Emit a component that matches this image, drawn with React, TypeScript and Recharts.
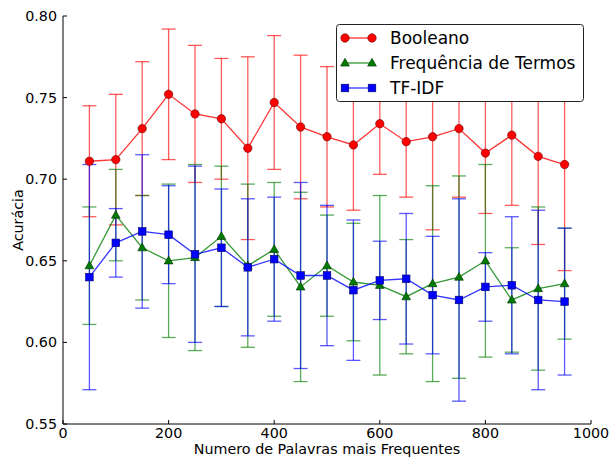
import { LineChart, Line, XAxis, YAxis, ErrorBar, Legend } from "recharts";

const palavras = [50, 100, 150, 200, 250, 300, 350, 400, 450, 500, 550, 600, 650, 700, 750, 800, 850, 900, 950];

const booleano = [0.711, 0.712, 0.731, 0.752, 0.740, 0.737, 0.719, 0.747, 0.732, 0.726, 0.721, 0.734, 0.723, 0.726, 0.731, 0.716, 0.727, 0.714, 0.709];
const booleanoErro = [0.034, 0.040, 0.041, 0.040, 0.042, 0.037, 0.056, 0.041, 0.044, 0.043, 0.040, 0.031, 0.034, 0.057, 0.042, 0.037, 0.043, 0.054, 0.065];

const frequencia = [0.647, 0.678, 0.658, 0.650, 0.652, 0.665, 0.647, 0.657, 0.634, 0.647, 0.637, 0.635, 0.628, 0.636, 0.640, 0.650, 0.626, 0.633, 0.636];
const frequenciaErro = [0.036, 0.028, 0.032, 0.047, 0.057, 0.043, 0.050, 0.041, 0.058, 0.031, 0.036, 0.055, 0.035, 0.060, 0.062, 0.059, 0.032, 0.050, 0.034];

const tfidf = [0.640, 0.661, 0.668, 0.666, 0.654, 0.658, 0.646, 0.651, 0.641, 0.641, 0.632, 0.638, 0.639, 0.629, 0.626, 0.634, 0.635, 0.626, 0.625];
const tfidfErro = [0.069, 0.021, 0.047, 0.030, 0.054, 0.036, 0.042, 0.038, 0.057, 0.043, 0.043, 0.024, 0.040, 0.036, 0.062, 0.021, 0.042, 0.055, 0.045];

const xTicks = [0, 200, 400, 600, 800, 1000];
const yTicks = [0.55, 0.6, 0.65, 0.7, 0.75, 0.8];

const data = palavras.map((n, i) => ({
  n,
  booleano: booleano[i],
  booleanoErro: booleanoErro[i],
  frequencia: frequencia[i],
  frequenciaErro: frequenciaErro[i],
  tfidf: tfidf[i],
  tfidfErro: tfidfErro[i],
}));

const FONT = "'DejaVu Sans', sans-serif";
const SIZE = 14.3;

const circle = (cx: number, cy: number, key?: any) => (
  <circle key={key} cx={cx} cy={cy} r={4.2} fill="#ff0000" stroke="#660000" strokeWidth={0.6} />
);
const triangle = (cx: number, cy: number, key?: any) => (
  <polygon
    key={key}
    points={`${cx},${cy - 4.7} ${cx - 4.4},${cy + 3.1} ${cx + 4.4},${cy + 3.1}`}
    fill="#007a00"
    stroke="#003300"
    strokeWidth={0.6}
  />
);
const square = (cx: number, cy: number, key?: any) => (
  <rect key={key} x={cx - 3.8} y={cy - 3.8} width={7.6} height={7.6} fill="#0000ff" stroke="#000066" strokeWidth={0.6} />
);

const series = [
  { name: "Booleano", color: "#ff0000", marker: circle },
  { name: "Frequência de Termos", color: "#008000", marker: triangle },
  { name: "TF-IDF", color: "#0000ff", marker: square },
];

const LegendBox = () => (
  <svg width={248} height={78} style={{ display: "block" }}>
    <rect x={0.5} y={0.5} width={247} height={77} rx={3} fill="#ffffff" stroke="#222" strokeWidth={1} />
    {series.map((s, i) => {
      const y = 14 + i * 25;
      return (
        <g key={s.name}>
          <line x1={9} x2={36} y1={y} y2={y} stroke={s.color} strokeWidth={1.3} strokeOpacity={0.8} />
          {s.marker(9, y)}
          {s.marker(36, y)}
          <text x={54} y={y} dominantBaseline="central" fontFamily={FONT} fontSize={17} fill="#000">
            {s.name}
          </text>
        </g>
      );
    })}
  </svg>
);

export default function App() {
  return (
    <div style={{ position: "absolute", left: 0, top: 0, width: 609, height: 457, background: "#fff" }}>
      <LineChart width={609} height={457} data={data} margin={{ top: 16, right: 18, left: 0, bottom: 0 }}>
        <XAxis
          dataKey="n"
          type="number"
          domain={[0, 1000]}
          ticks={xTicks}
          height={33}
          stroke="#000"
          tickSize={-4}
          tickMargin={8}
          tick={{ fill: "#000", fontSize: SIZE, fontFamily: FONT }}
          label={{ value: "Numero de Palavras mais Frequentes", position: "insideBottom", offset: 3, fill: "#000", fontSize: SIZE, fontFamily: FONT }}
        />
        <YAxis
          type="number"
          domain={[0.55, 0.8]}
          ticks={yTicks}
          width={63}
          stroke="#000"
          tickSize={-4}
          tickMargin={10}
          tickFormatter={(v: number) => v.toFixed(2)}
          tick={{ fill: "#000", fontSize: SIZE, fontFamily: FONT }}
          label={{ value: "Acurácia", angle: -90, position: "insideLeft", offset: 18, fill: "#000", fontSize: SIZE, fontFamily: FONT, style: { textAnchor: "middle" } }}
        />
        <XAxis xAxisId="top" orientation="top" type="number" domain={[0, 1000]} ticks={xTicks} height={0} stroke="#000" tickSize={-4} tick={false} />
        <YAxis yAxisId="right" orientation="right" type="number" domain={[0.55, 0.8]} ticks={yTicks} width={0} stroke="#000" tickSize={-4} tick={false} />

        <Line
          dataKey="booleano"
          name="Booleano"
          stroke="#ff0000"
          strokeOpacity={0.8}
          strokeWidth={1.3}
          isAnimationActive={false}
          dot={(p: any) => circle(p.cx, p.cy, p.key ?? p.index)}
        >
          <ErrorBar dataKey="booleanoErro" direction="y" width={7} stroke="#ff0000" strokeOpacity={0.65} strokeWidth={1.3} />
        </Line>
        <Line
          dataKey="frequencia"
          name="Frequência de Termos"
          stroke="#008000"
          strokeOpacity={0.8}
          strokeWidth={1.3}
          isAnimationActive={false}
          dot={(p: any) => triangle(p.cx, p.cy, p.key ?? p.index)}
        >
          <ErrorBar dataKey="frequenciaErro" direction="y" width={7} stroke="#008000" strokeOpacity={0.65} strokeWidth={1.3} />
        </Line>
        <Line
          dataKey="tfidf"
          name="TF-IDF"
          stroke="#0000ff"
          strokeOpacity={0.8}
          strokeWidth={1.3}
          isAnimationActive={false}
          dot={(p: any) => square(p.cx, p.cy, p.key ?? p.index)}
        >
          <ErrorBar dataKey="tfidfErro" direction="y" width={7} stroke="#0000ff" strokeOpacity={0.65} strokeWidth={1.3} />
        </Line>

        <Legend
          layout="horizontal"
          verticalAlign="middle"
          content={() => <LegendBox />}
          wrapperStyle={{ left: 336, top: 24, width: 248, height: 78 }}
        />
      </LineChart>
    </div>
  );
}
